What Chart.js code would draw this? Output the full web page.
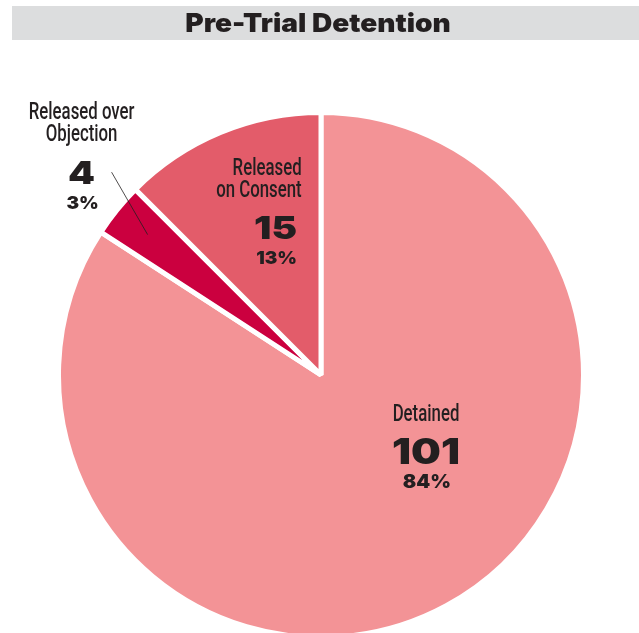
<!DOCTYPE html>
<html>
<head>
<meta charset="utf-8">
<script src="https://cdn.jsdelivr.net/npm/chart.js@4/dist/chart.umd.min.js"></script>
<style>
  html, body { margin: 0; padding: 0; background: #ffffff; }
  #wrap { width: 639px; height: 633px; position: relative; }
</style>
</head>
<body>
<div id="wrap"><canvas id="grafico-detencion"></canvas></div>
<script>
// Datos del gráfico
const titulo = "Pre-Trial Detention";
const categorias = ["Detained", "Released over Objection", "Released on Consent"];
const lineasEtiqueta = [["Detained"], ["Released over", "Objection"], ["Released", "on Consent"]];
const valores = [101, 4, 15];
const porcentajes = ["84%", "3%", "13%"];
const colores = ["#F39396", "#CB003F", "#E35C6A"];

// Fuentes
const fuenteNombre = "Roboto, 'Liberation Sans', sans-serif";
const fuenteNumero = "Inter, Roboto, 'DejaVu Sans', sans-serif";
const colorTexto = "#231F20";

// Posición de cada bloque de texto, en fracciones del radio respecto al centro
const anclas = [
    { dx: 0.40, dy: 0.30, alinear: "center", nombreX: 0, guia: false },
    { dx: -0.912, dy: -0.765, alinear: "center", nombreX: 0, guia: true },
    { dx: -0.173, dy: -0.553, alinear: "right", nombreX: 26, guia: false }
];

// Texto con escala horizontal (condensado o ensanchado)
function textoEscalado(c, texto, x, y, alinear, escalaX) {
    c.save();
    c.translate(x, y);
    c.scale(escalaX, 1);
    c.textAlign = alinear;
    c.fillText(texto, 0, 0);
    c.restore();
}

// Banda gris del título
const pluginTitulo = {
    id: "bandaTitulo",
    beforeDraw(chart) {
        const c = chart.ctx;
        c.save();
        c.fillStyle = "#DCDDDE";
        c.fillRect(12, 6, chart.width - 12, 34);
        c.fillStyle = colorTexto;
        c.font = "900 26px " + fuenteNumero;
        c.textBaseline = "middle";
        textoEscalado(c, titulo, 318, 24, "center", 1.08);
        c.restore();
    }
};

// Etiquetas de cada porción: nombre, valor y porcentaje
const pluginEtiquetas = {
    id: "etiquetas",
    afterDatasetsDraw(chart) {
        const c = chart.ctx;
        const arcos = chart.getDatasetMeta(0).data;
        c.save();
        c.fillStyle = colorTexto;
        c.strokeStyle = "#231F20";
        arcos.forEach((arco, i) => {
            const r = arco.outerRadius;
            const a = anclas[i];
            const x = arco.x + a.dx * r;
            const y = arco.y + a.dy * r;
            const lineas = lineasEtiqueta[i];

            // Nombre de la categoría
            c.font = "500 23px " + fuenteNombre;
            c.textBaseline = "middle";
            const alto = 21.5;
            lineas.forEach((linea, j) => {
                const yl = y - 39 - (lineas.length - 1 - j) * alto;
                textoEscalado(c, linea, x + a.nombreX, yl, a.alinear, 0.73);
            });

            // Valor
            c.font = "900 " + (i === 0 ? 35 : 32) + "px " + fuenteNumero;
            textoEscalado(c, String(valores[i]), x, y, "center", 1.2);

            // Porcentaje
            c.font = "900 " + (i === 0 ? 19 : 18) + "px " + fuenteNumero;
            textoEscalado(c, porcentajes[i], x + 1, y + 29, "center", 1.05);

            // Línea guía hacia la porción pequeña
            if (a.guia) {
                const medio = (arco.startAngle + arco.endAngle) / 2;
                const px = arco.x + Math.cos(medio) * r * 0.85;
                const py = arco.y + Math.sin(medio) * r * 0.85;
                c.lineWidth = 0.8;
                c.beginPath();
                c.moveTo(x + 30, y - 2);
                c.lineTo(px, py);
                c.stroke();
            }
        });
        c.restore();
    }
};

const ctx = document.getElementById("grafico-detencion").getContext("2d");
const grafico = new Chart(ctx, {
    type: "pie",
    data: {
        labels: categorias,
        datasets: [
            {
                data: valores,
                backgroundColor: colores,
                borderColor: "#ffffff",
                borderWidth: 5,
                borderJoinStyle: "bevel",
                hoverOffset: 0,
                clip: false
            }
        ]
    },
    options: {
        responsive: true,
        maintainAspectRatio: false,
        animation: false,
        radius: 262.5,
        layout: {
            padding: { top: 117, bottom: 0, left: 3, right: 0 }
        },
        plugins: {
            legend: { display: false },
            tooltip: { enabled: false },
            title: { display: false }
        }
    },
    plugins: [pluginTitulo, pluginEtiquetas]
});
</script>
</body>
</html>
